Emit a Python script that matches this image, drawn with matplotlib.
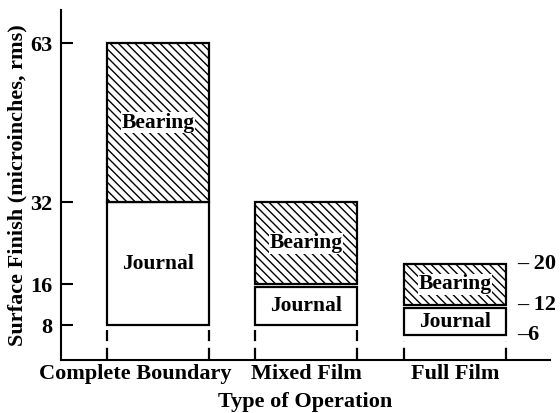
import matplotlib
matplotlib.use("Agg")
import matplotlib.pyplot as plt
import matplotlib.transforms as mtransforms

# data
OPERATIONS = ["Complete Boundary", "Mixed Film", "Full Film"]
JOURNAL_LOW = [8, 8, 6]
JOURNAL_HIGH = [32, 15.4, 11.4]
BEARING_LOW = [32, 16, 12]
BEARING_HIGH = [63, 32, 20]
Y_TICKS = [8, 16, 32, 63]
RIGHT_MARKS = [20, 12, 6]
RIGHT_LABELS = ["\u2013 20", "\u2013 12", "\u20136"]

plt.rcParams["font.family"] = "Liberation Serif"
plt.rcParams["font.weight"] = "bold"
plt.rcParams["axes.labelweight"] = "bold"
plt.rcParams["hatch.linewidth"] = 1.0

fig = plt.figure(figsize=(5.6, 4.13), dpi=100)
ax = fig.add_axes([0.109, 0.128, 0.873, 0.848])

x = list(range(len(OPERATIONS)))
w = 0.687
lw = 1.6

j_h = [hi - lo for lo, hi in zip(JOURNAL_LOW, JOURNAL_HIGH)]
b_h = [hi - lo for lo, hi in zip(BEARING_LOW, BEARING_HIGH)]
ax.bar(x, j_h, bottom=JOURNAL_LOW, width=w, color="white",
       edgecolor="black", linewidth=lw, zorder=2)
ax.bar(x, b_h, bottom=BEARING_LOW, width=w, color="white",
       edgecolor="black", linewidth=lw, hatch="\\\\\\\\", zorder=2)

# dashed drop lines under each bar
for xi, lo in zip(x, JOURNAL_LOW):
    for edge in (xi - w / 2, xi + w / 2):
        ax.vlines(edge, 1.2, lo - 1.0, colors="black", linewidth=1.6,
                  linestyles=(0, (5.5, 3)), zorder=1)

# labels inside bars
for xi, lo, hi in zip(x, BEARING_LOW, BEARING_HIGH):
    ax.text(xi, (lo + hi) / 2, "Bearing", ha="center", va="center",
            fontsize=15.5, zorder=3,
            bbox=dict(facecolor="white", edgecolor="none", pad=0.3))
for xi, lo, hi in zip(x, JOURNAL_LOW, JOURNAL_HIGH):
    ax.text(xi, (lo + hi) / 2, "Journal", ha="center", va="center",
            fontsize=15.5, zorder=3)

# marks to the right of the last bar
for v, s in zip(RIGHT_MARKS, RIGHT_LABELS):
    ax.text(2.42, v, s, ha="left", va="center", fontsize=16)

ax.set_xlim(-0.653, 2.64)
ax.set_ylim(1.17, 69.5)
ax.set_yticks(Y_TICKS)
ax.set_yticklabels([str(t) for t in Y_TICKS])
ax.tick_params(axis="y", direction="in", length=8.6, width=1.5,
               pad=6, labelsize=16)
ax.set_xticks(x)
ax.set_xticklabels(OPERATIONS)
ax.tick_params(axis="x", length=0, pad=3, labelsize=16)
# long first label sits a bit left of its bar
shift = mtransforms.ScaledTranslation(-23 / 100, 0, fig.dpi_scale_trans)
lab0 = ax.get_xticklabels()[0]
lab0.set_transform(lab0.get_transform() + shift)

for side in ("top", "right"):
    ax.spines[side].set_visible(False)
for side in ("left", "bottom"):
    ax.spines[side].set_linewidth(1.5)

ax.set_xlabel("Type of Operation", fontsize=16, labelpad=5.5)
ax.set_ylabel("Surface Finish (microinches, rms)", fontsize=16, labelpad=2)

fig.savefig("out.png", dpi=100)
